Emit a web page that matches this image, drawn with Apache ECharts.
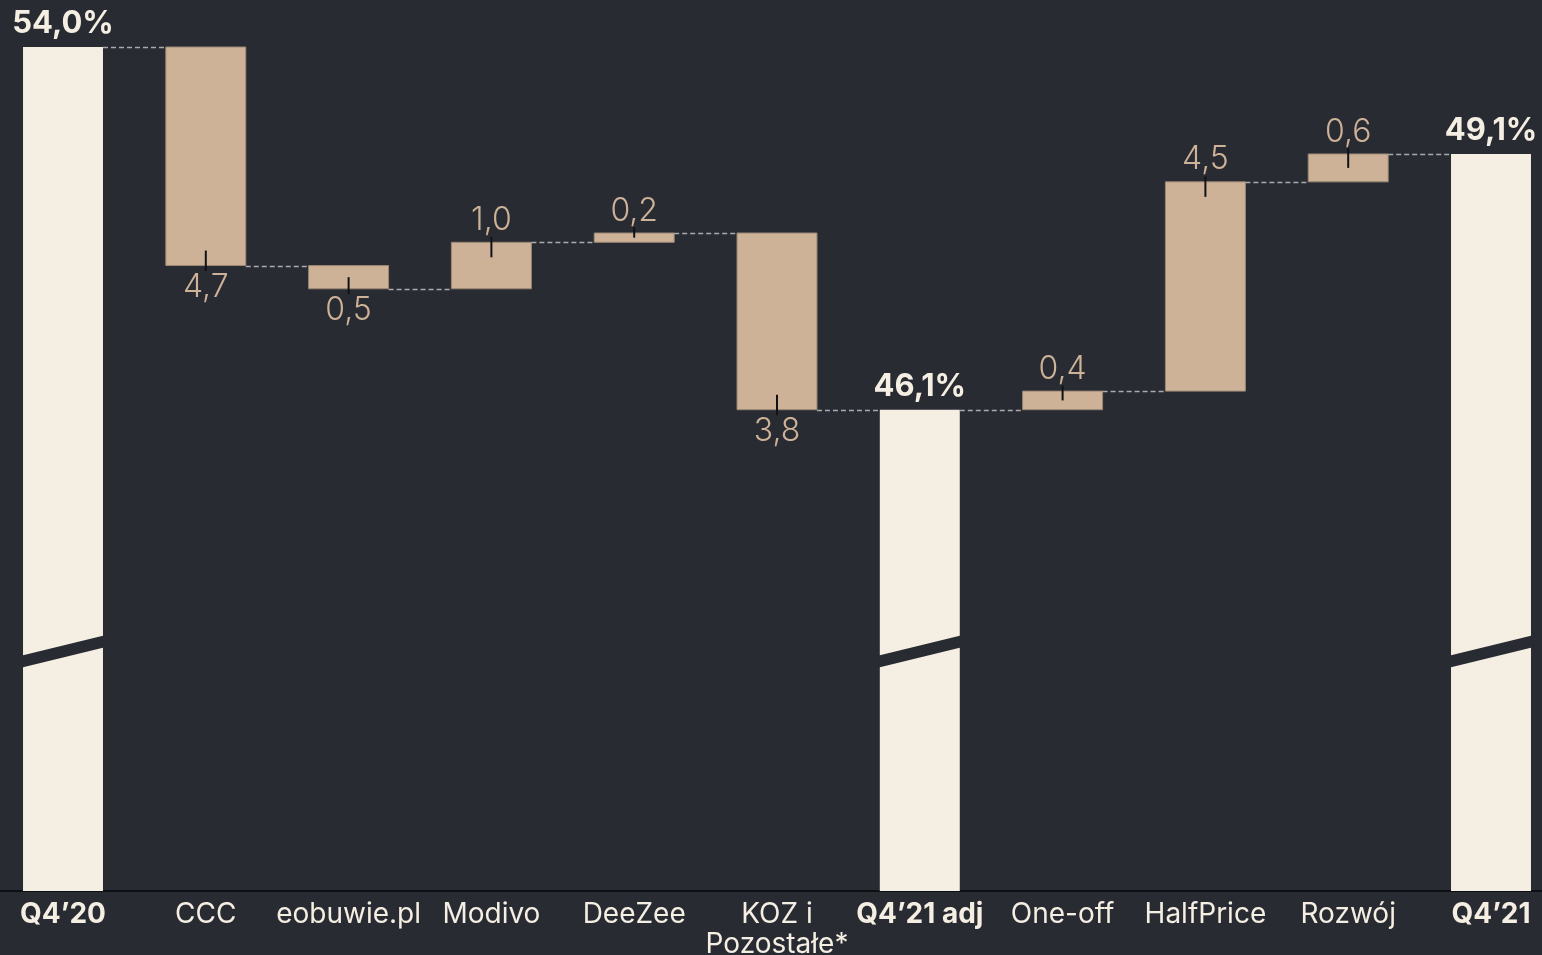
<!DOCTYPE html>
<html>
<head>
<meta charset="utf-8">
<script src="https://cdn.jsdelivr.net/npm/echarts@6/dist/echarts.min.js"></script>
<style>
  html, body { margin: 0; padding: 0; background: #292b33; }
  #chart { width: 1542px; height: 955px; }
</style>
</head>
<body>
<div id="chart"></div>
<script>
// categories on the x axis
const categories = ["Q4’20", "CCC", "eobuwie.pl", "Modivo", "DeeZee", "KOZ i\nPozostałe*",
  "Q4’21 adj", "One-off", "HalfPrice", "Rozwój", "Q4’21"];
// starting level (Q4'20), in %
const startValue = 54.0;
// change per step, null = total bar
const deltas = [null, -4.7, -0.5, 1.0, 0.2, -3.8, null, 0.4, 4.5, 0.6, null];
// labels printed above the total bars
const totalLabels = ["54,0%", null, null, null, null, null, "46,1%", null, null, null, "49,1%"];
// visible part of the (broken) value axis
const axisMin = 35.85;
const axisMax = 54.0;
const breakValue = 41.0;

const BG = "#292b33";
const CREAM = "#f5eee2";
const TAN = "#cdb298";
const FONT = "Inter, 'Open Sans', sans-serif";

// build bars: [index, from, to, isTotal, delta]
const barData = [];
let level = startValue;
deltas.forEach((d, i) => {
  if (d === null) {
    barData.push([i, axisMin, level, 1, 0]);
  } else {
    const from = level;
    level = +(level + d).toFixed(2);
    barData.push([i, from, level, 0, d]);
  }
});

const fmt = (v) => Math.abs(v).toFixed(1).replace(".", ",");

function renderItem(params, api) {
  const i = api.value(0);
  const from = api.value(1);
  const to = api.value(2);
  const isTotal = api.value(3) === 1;
  const delta = api.value(4);
  const band = api.size([1, 0])[0];
  const w = band * 0.56;
  const pFrom = api.coord([i, from]);
  const pTo = api.coord([i, to]);
  const cx = pTo[0];
  const yTop = Math.min(pFrom[1], pTo[1]);
  const yBot = Math.max(pFrom[1], pTo[1]);
  const h = yBot - yTop;
  const children = [];

  children.push({
    type: "rect",
    shape: { x: cx - w / 2, y: yTop, width: w, height: h },
    style: isTotal ? { fill: CREAM } : { fill: TAN, stroke: "#9a8874", lineWidth: 1 }
  });

  // connector to next bar
  if (i < categories.length - 1) {
    const yl = Math.round(pTo[1]) + 0.5;
    children.push({
      type: "line",
      shape: { x1: cx + w / 2, y1: yl, x2: cx + band - w / 2, y2: yl },
      style: { stroke: "#a9aab0", lineWidth: 1.5, lineDash: [5, 3] }
    });
  }

  if (isTotal) {
    const yc = api.coord([i, breakValue])[1];
    children.push({
      type: "polygon",
      shape: {
        points: [
          [cx - w / 2 - 1, yc + 10 - 6],
          [cx + w / 2 + 1, yc - 10 - 6],
          [cx + w / 2 + 1, yc - 10 + 6],
          [cx - w / 2 - 1, yc + 10 + 6]
        ]
      },
      style: { fill: BG }
    });
    children.push({
      type: "text",
      style: {
        text: totalLabels[i],
        x: cx,
        y: yTop - 23,
        fill: CREAM,
        font: "bold 31px " + FONT,
        align: "center",
        verticalAlign: "middle"
      }
    });
  } else {
    const dir = delta < 0 ? 1 : -1;
    const yEnd = pTo[1];
    const inward = Math.min(15, h / 2);
    children.push({
      type: "line",
      shape: { x1: cx, y1: yEnd + dir * 5.5, x2: cx, y2: yEnd - dir * inward },
      style: { stroke: "#111216", lineWidth: 2 }
    });
    children.push({
      type: "text",
      style: {
        text: fmt(delta),
        x: cx,
        y: yEnd + dir * 22,
        fill: TAN,
        font: "300 32px " + FONT,
        align: "center",
        verticalAlign: "middle"
      }
    });
  }

  return { type: "group", children: children };
}

const chart = echarts.init(document.getElementById("chart"));

chart.setOption({
  backgroundColor: BG,
  animation: false,
  grid: {
    left: -8.4,
    right: -20.4,
    top: 47,
    bottom: 64,
    containLabel: false,
    outerBoundsMode: "none"
  },
  xAxis: {
    type: "category",
    data: categories,
    axisTick: { show: false },
    axisLine: { lineStyle: { color: "#0e0f12", width: 2 } },
    axisLabel: {
      interval: 0,
      margin: 9,
      color: CREAM,
      fontFamily: FONT,
      fontSize: 28,
      lineHeight: 30,
      formatter: function (value, idx) {
        return totalLabels[idx] ? "{b|" + value + "}" : value;
      },
      rich: {
        b: { fontWeight: "bold", fontSize: 28, fontFamily: FONT, color: CREAM }
      }
    }
  },
  yAxis: {
    type: "value",
    min: axisMin,
    max: axisMax,
    show: false,
    splitLine: { show: false }
  },
  series: [
    {
      type: "custom",
      clip: false,
      renderItem: renderItem,
      encode: { x: 0, y: [1, 2] },
      data: barData,
      z: 3
    }
  ]
});

window.addEventListener("resize", () => chart.resize());
</script>
</body>
</html>
